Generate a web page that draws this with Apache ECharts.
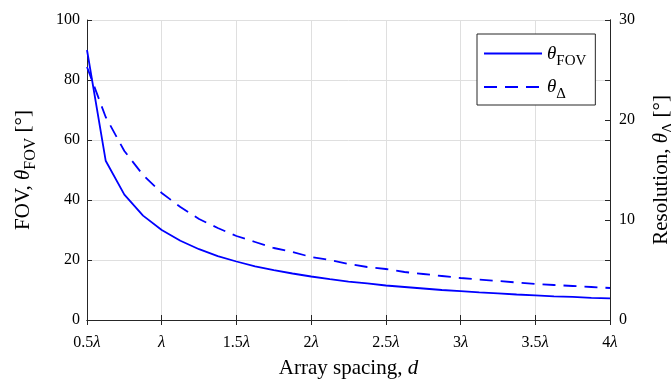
<!DOCTYPE html>
<html>
<head>
<meta charset="utf-8">
<script src="https://cdn.jsdelivr.net/npm/echarts@6/dist/echarts.min.js"></script>
<style>
html,body{margin:0;padding:0;background:#fff;}
#c{width:671px;height:379px;}
</style>
</head>
<body>
<div id="c"></div>
<script>
// Array spacing d (in units of wavelength)
var spacing = [0.5,0.625,0.75,0.875,1,1.125,1.25,1.375,1.5,1.625,1.75,1.875,2,2.125,2.25,2.375,2.5,2.625,2.75,2.875,3,3.125,3.25,3.375,3.5,3.625,3.75,3.875,4];
// Field of view theta_FOV (deg), left axis
var fovValues = [90,53.1,41.8,34.8,30,26.4,23.6,21.3,19.5,17.9,16.6,15.5,14.5,13.6,12.8,12.2,11.5,11.0,10.5,10.0,9.6,9.2,8.9,8.5,8.2,7.9,7.7,7.4,7.2];
// Resolution theta_Delta (deg), right axis
var resValues = [25.3,20.3,16.9,14.5,12.7,11.3,10.1,9.2,8.4,7.8,7.2,6.8,6.3,6.0,5.6,5.3,5.1,4.8,4.6,4.4,4.2,4.05,3.9,3.75,3.6,3.5,3.4,3.3,3.2];
var xTicks = [0.5,1,1.5,2,2.5,3,3.5,4];

var FONT = "'Liberation Serif','Times New Roman',serif";
var fovData = spacing.map(function(d,i){return [d, fovValues[i]];});
var resData = spacing.map(function(d,i){return [d, resValues[i]];});

var chart = echarts.init(document.getElementById('c'), null, {renderer:'canvas'});
var tickStyle = {show:true, inside:true, length:5, lineStyle:{color:'#262626', width:1}};
var lineStyleAx = {show:true, lineStyle:{color:'#262626', width:1}};
var titleRich = {
  n:{fontFamily:FONT, fontSize:21, color:'#000'},
  t:{fontFamily:FONT, fontSize:21, fontStyle:'italic', color:'#000'},
  s:{fontFamily:FONT, fontSize:16, color:'#000', padding:[15,0,0,0]}
};
var legendRich = {
  t:{fontFamily:FONT, fontSize:19, fontStyle:'italic', color:'#000'},
  s:{fontFamily:FONT, fontSize:15, color:'#000', padding:[15,0,0,0]}
};
var option = {
  animation:false,
  backgroundColor:'#fff',
  grid:{left:87, right:61, top:20, bottom:59, containLabel:false, outerBoundsMode:'none'},
  legend:{
    orient:'vertical', left:477, top:34,
    backgroundColor:'#fff', borderColor:'#262626', borderWidth:1, borderRadius:0,
    padding:[10,9,3,6], itemWidth:58, itemHeight:12, itemGap:9, itemTextGap:3,
    data:['fov','res'],
    itemStyle:{color:'rgba(0,0,0,0)', borderWidth:0, opacity:0},
    formatter:function(n){ return n==='fov' ? '{t|θ}{s|FOV}' : '{t|θ}{s|Δ}'; },
    textStyle:{rich:legendRich}
  },
  xAxis:[{
    type:'value', min:0.5, max:4, interval:0.5, position:'bottom',
    axisLine:lineStyleAx, axisTick:tickStyle,
    splitLine:{show:true, lineStyle:{color:'#dfdfdf', width:1}},
    axisLabel:{margin:14, color:'#000', fontFamily:FONT, fontSize:16,
      formatter:function(v){ return v===1 ? '{l|λ}' : '{n|'+v+'}{l|λ}'; },
      rich:{n:{fontFamily:FONT,fontSize:16,color:'#000'}, l:{fontFamily:FONT,fontSize:17,fontStyle:'italic',color:'#000'}}
    },
    name:'{n|Array spacing, }{t|d}', nameLocation:'middle', nameGap:38,
    nameTextStyle:{rich:titleRich}
  },{
    type:'value', min:0.5, max:4, interval:0.5, position:'top',
    axisLine:lineStyleAx, axisTick:tickStyle, axisLabel:{show:false}, splitLine:{show:false}
  }],
  yAxis:[{
    type:'value', min:0, max:100, interval:20, position:'left',
    axisLine:lineStyleAx, axisTick:tickStyle,
    splitLine:{show:true, lineStyle:{color:'#dfdfdf', width:1}},
    axisLabel:{margin:7, color:'#000', fontFamily:FONT, fontSize:16},
    name:'{n|FOV, }{t|θ}{s|FOV}{n| [°]}', nameLocation:'middle', nameGap:48, nameRotate:90,
    nameTextStyle:{rich:titleRich}
  },{
    type:'value', min:0, max:30, interval:10, position:'right',
    axisLine:lineStyleAx, axisTick:tickStyle, splitLine:{show:false},
    axisLabel:{margin:9, color:'#000', fontFamily:FONT, fontSize:16},
    name:'{n|Resolution, }{t|θ}{s|Δ}{n| [°]}', nameLocation:'middle', nameGap:36, nameRotate:90,
    nameTextStyle:{rich:titleRich}
  },{
    type:'value', min:0, max:100, interval:20, position:'right',
    axisLine:lineStyleAx, axisTick:tickStyle, axisLabel:{show:false}, splitLine:{show:false}
  }],
  series:[{
    name:'fov', type:'line', xAxisIndex:0, yAxisIndex:0, data:fovData,
    symbol:'none', lineStyle:{color:'#0000ff', width:1.8, type:'solid'}, itemStyle:{color:'#0000ff'}
  },{
    name:'res', type:'line', xAxisIndex:0, yAxisIndex:1, data:resData,
    symbol:'none', lineStyle:{color:'#0000ff', width:1.8, type:[13,8]}, itemStyle:{color:'#0000ff'}
  }]
};
chart.setOption(option);
</script>
</body>
</html>
